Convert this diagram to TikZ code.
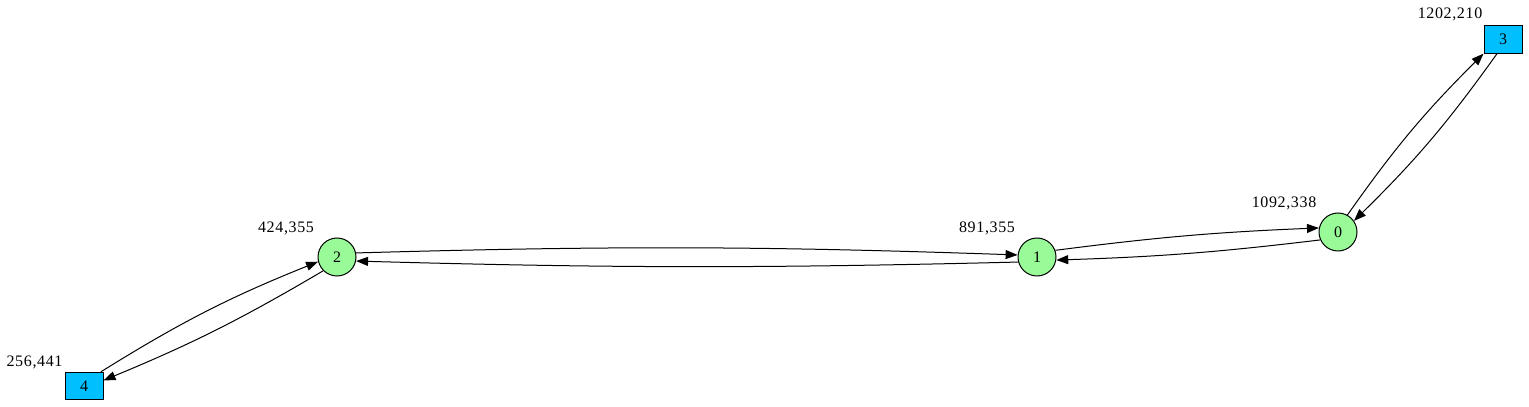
\documentclass[tikz,border=0pt]{standalone}
\usepackage{fontspec}
\setmainfont{Liberation Serif}[LetterSpace=4]
\usetikzlibrary{arrows.meta}
\definecolor{pgreen}{RGB}{152,251,152}
\definecolor{dsky}{RGB}{0,191,255}
\tikzset{
  cnode/.style={circle,draw=black,fill=pgreen,line width=1pt,minimum size=38pt,inner sep=0pt,font=\fontsize{16}{18}\selectfont},
  bnode/.style={rectangle,draw=black,fill=dsky,line width=1pt,minimum width=38pt,minimum height=27.5pt,inner sep=0pt,font=\fontsize{16}{18}\selectfont},
  lbl/.style={anchor=base,inner sep=0pt,font=\fontsize{16}{18}\selectfont},
  edge/.style={draw=black,line width=1pt,-{Triangle[length=12pt,width=9pt]}}
}
\begin{document}
\begin{tikzpicture}[x=1pt,y=1pt]
\useasboundingbox (0,0) rectangle (1529,407);
\node[cnode] (n0) at (1338,175) {0};
\node[cnode] (n1) at (1037,150) {1};
\node[cnode] (n2) at (337,150) {2};
\node[bnode] (n3) at (1503,367.5) {3};
\node[bnode] (n4) at (84,21) {4};
\node[lbl] (l3) at (1450,388) {1202,210};
\node[lbl] (l0) at (1284,199) {1092,338};
\node[lbl] (l1) at (987,174) {891,355};
\node[lbl] (l2) at (286,174) {424,355};
\node[lbl] (l4) at (34.5,40) {256,441};
\draw[edge] (n2.12) to[bend left=1.8] (n1.174);
\draw[edge] (n1.195) to[bend left=1.5] (n2.348);
\draw[edge] (n1.20) to[bend left=2.5] (n0.168);
\draw[edge] (n0.204) to[bend left=2.5] (n1.351);
\draw[edge] (n0.61) to[bend left=5] (n3.216);
\draw[edge] (n3.247) to[bend left=5] (n0.35);
\draw[edge] (n4.40) to[bend left=5] (n2.194);
\draw[edge] (n2.225) to[bend left=4] (n4.16);
\end{tikzpicture}
\end{document}
